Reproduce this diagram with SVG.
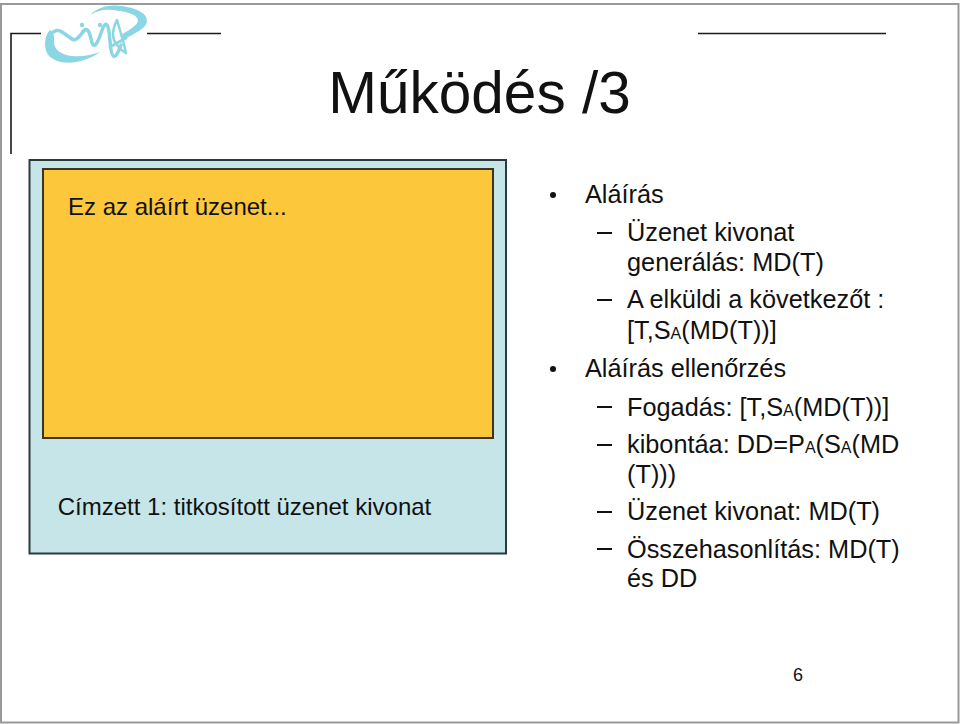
<svg xmlns="http://www.w3.org/2000/svg" width="960" height="724" viewBox="0 0 960 724">
<style>
text{font-family:"Liberation Sans",Arial,sans-serif;fill:#111}
.b{font-size:25.300px}
.s{font-size:16px}
.m{font-size:24px}
.d{stroke:#111;stroke-width:2;fill:none}
.l{stroke:#1a1a1a;stroke-width:1.6;fill:none}
.logo{stroke:#8bd6e4;fill:none;stroke-linecap:round;stroke-linejoin:round}
.logof{fill:#8bd6e4}
</style>
<rect width="960" height="724" fill="#fff"/>
<rect x="1" y="4" width="957.500" height="718.500" fill="none" stroke="#999" stroke-width="2"/>
<g id="frame">
<path class="l" d="M41 33.500H11V154"/>
<path class="l" d="M147 33.500H221"/>
<path class="l" d="M698 33.500H886"/>
</g>
<g id="logo">
<path class="logof" d="M90 15C97 7 110 4 122 6C136 8 147 13 147 21C147 28 135 33 125 39L120 36C128 30 138 26 138 20C137 14 125 11 112 10C104 9 96 11 90 15Z"/>
<path class="logof" d="M50 30C44 36 44 47 47 53C52 62 66 64 76 62C86 60 95 56 100 52C92 55 82 57 72 56C62 55 54 50 54 42C54 38 55 34 50 30Z"/>
<path class="logo" stroke-width="3.500" d="M50 35Q56 28 62 32T72 39T82 33T91 39T101 33T110 41T121 45"/>
<path class="logo" stroke-width="2.500" d="M117 20C113 28 111 38 117 45C120 49 124 52 126 53C124 44 120 30 117 20Z"/>
<path class="logo" stroke-width="3" d="M126 38L110 47"/>
<circle cx="82" cy="25" r="2.200" class="logof"/>
<circle cx="100" cy="25" r="2.200" class="logof"/>
</g>
<text x="479.500" y="113" text-anchor="middle" style="font-size:58.500px">Működés /3</text>
<g id="outer">
<rect x="29.500" y="160" width="476.500" height="393.500" fill="#c5e5e9" stroke="#2b3a3a" stroke-width="2"/>
<text x="244.500" y="515" text-anchor="middle" class="m">Címzett 1: titkosított üzenet kivonat</text>
</g>
<g id="message">
<rect x="43" y="169" width="450" height="269" fill="#fdc73c" stroke="#3a3520" stroke-width="2"/>
<text x="68" y="215" class="m">Ez az aláírt üzenet...</text>
</g>
<g id="bullets">
<circle cx="553" cy="195" r="3" fill="#111"/>
<circle cx="553" cy="369" r="3" fill="#111"/>
<path class="d" d="M597 233H612M597 300H612M597 407H612M597 445H612M597 512H612M597 549H612"/>
<text x="585" y="203" class="b">Aláírás</text>
<text x="627" y="241" class="b">Üzenet kivonat</text>
<text x="627" y="271" class="b">generálás: MD(T)</text>
<text x="627" y="308" class="b">A elküldi a következőt :</text>
<text x="627" y="339" class="b">[T,S<tspan class="s">A</tspan>(MD(T))]</text>
<text x="585" y="377" class="b">Aláírás ellenőrzés</text>
<text x="627" y="416" class="b">Fogadás: [T,S<tspan class="s">A</tspan>(MD(T))]</text>
<text x="627" y="453" class="b">kibontáa: DD=P<tspan class="s">A</tspan>(S<tspan class="s">A</tspan>(MD</text>
<text x="627" y="483" class="b">(T)))</text>
<text x="627" y="520" class="b">Üzenet kivonat: MD(T)</text>
<text x="627" y="558" class="b">Összehasonlítás: MD(T)</text>
<text x="627" y="587" class="b">és DD</text>
</g>
<text x="793" y="681" style="font-size:18px">6</text>
</svg>
